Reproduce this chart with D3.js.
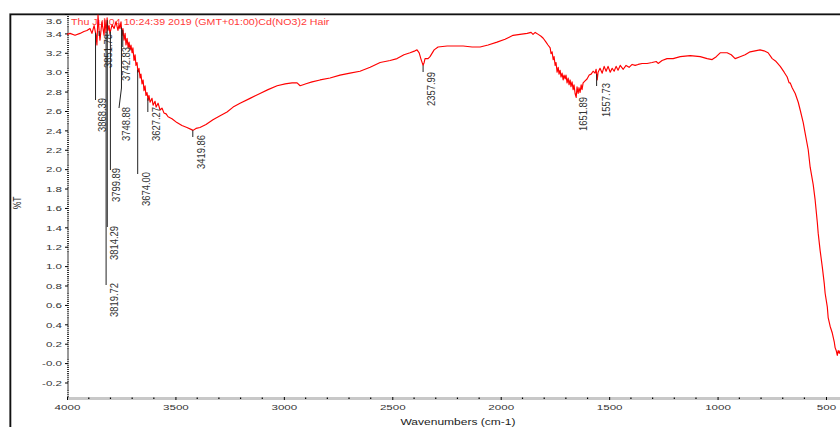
<!DOCTYPE html>
<html>
<head>
<meta charset="utf-8">
<script src="https://cdn.jsdelivr.net/npm/d3@7"></script>
<style>
  body { margin: 0; background: #fff; }
  svg { display: block; font-family: "Liberation Sans", Arial, sans-serif; }
</style>
</head>
<body>
<svg id="chart" width="840" height="427"></svg>
<script>
// FTIR spectrum of Cd(NO3)2-treated hair: wavenumber (cm-1) vs transmittance (%T)
const wavenumbers = [
  4000, 3986, 3963, 3940, 3922, 3908, 3894, 3885, 3875, 3866, 3862, 3857, 3852, 3848, 3839, 3829,
  3825, 3820, 3815, 3811, 3806, 3802, 3792, 3783, 3774, 3765, 3760, 3756, 3751, 3746, 3742, 3737,
  3732, 3728, 3723, 3718, 3714, 3709, 3705, 3700, 3696, 3691, 3686, 3682, 3677, 3673, 3668, 3663,
  3659, 3654, 3649, 3645, 3640, 3636, 3631, 3626, 3622, 3617, 3608, 3603, 3594, 3589, 3580, 3571,
  3562, 3553, 3543, 3534, 3516, 3493, 3470, 3447, 3428, 3419, 3405, 3387, 3359, 3327, 3294, 3262,
  3234, 3202, 3156, 3110, 3073, 3031, 2994, 2962, 2939, 2925, 2911, 2898, 2870, 2833, 2787, 2741,
  2695, 2649, 2602, 2556, 2510, 2478, 2446, 2418, 2395, 2386, 2376, 2367, 2358, 2353, 2349, 2335,
  2326, 2307, 2289, 2247, 2210, 2173, 2132, 2095, 2058, 2017, 1980, 1943, 1911, 1878, 1860, 1851,
  1841, 1827, 1814, 1804, 1791, 1782, 1772, 1768, 1763, 1758, 1754, 1749, 1745, 1740, 1735, 1731,
  1726, 1722, 1717, 1712, 1708, 1703, 1699, 1694, 1689, 1685, 1680, 1676, 1671, 1666, 1662, 1657,
  1652, 1648, 1643, 1639, 1634, 1629, 1625, 1620, 1611, 1602, 1592, 1583, 1574, 1565, 1560, 1555,
  1551, 1542, 1532, 1523, 1514, 1505, 1495, 1486, 1477, 1468, 1459, 1449, 1435, 1422, 1408, 1394,
  1380, 1366, 1348, 1325, 1302, 1283, 1274, 1256, 1233, 1205, 1172, 1126, 1080, 1048, 1025, 1006,
  988, 956, 937, 919, 896, 873, 850, 827, 804, 786, 767, 748, 730, 711, 693, 679,
  670, 665, 656, 642, 628, 619, 605, 596, 582, 573, 559, 550, 540, 536, 527, 517,
  508, 504, 494, 490, 481, 471, 462, 458, 453, 448, 444, 439, 435
];
const transmittance = [
  3.39, 3.40, 3.38, 3.40, 3.42, 3.43, 3.45, 3.40, 3.48, 3.38, 3.28, 3.59, 3.43, 3.33, 3.52, 3.38,
  3.54, 3.41, 3.56, 3.43, 3.48, 3.40, 3.49, 3.45, 3.52, 3.43, 3.49, 3.45, 3.52, 3.38, 3.45, 3.33,
  3.40, 3.28, 3.35, 3.25, 3.31, 3.23, 3.28, 3.20, 3.25, 3.12, 3.18, 3.07, 3.10, 3.00, 3.04, 2.94,
  2.98, 2.88, 2.92, 2.81, 2.86, 2.76, 2.79, 2.71, 2.76, 2.69, 2.73, 2.66, 2.70, 2.64, 2.68, 2.61,
  2.63, 2.58, 2.57, 2.54, 2.52, 2.48, 2.45, 2.43, 2.41, 2.40, 2.42, 2.43, 2.46, 2.51, 2.55, 2.59,
  2.64, 2.68, 2.73, 2.78, 2.82, 2.86, 2.88, 2.89, 2.89, 2.86, 2.87, 2.88, 2.90, 2.92, 2.94, 2.97,
  2.99, 3.01, 3.05, 3.10, 3.12, 3.14, 3.18, 3.20, 3.22, 3.23, 3.20, 3.13, 3.07, 3.10, 3.14, 3.14,
  3.16, 3.23, 3.26, 3.27, 3.27, 3.27, 3.26, 3.26, 3.28, 3.31, 3.34, 3.38, 3.39, 3.40, 3.41, 3.39,
  3.41, 3.39, 3.37, 3.35, 3.31, 3.28, 3.25, 3.19, 3.21, 3.13, 3.16, 3.07, 3.10, 3.00, 3.05, 2.98,
  3.02, 2.95, 2.99, 2.92, 2.97, 2.93, 2.97, 2.89, 2.94, 2.87, 2.92, 2.85, 2.90, 2.82, 2.87, 2.78,
  2.74, 2.85, 2.78, 2.84, 2.79, 2.87, 2.82, 2.89, 2.91, 2.93, 2.97, 2.98, 3.01, 2.99, 3.03, 2.92,
  3.00, 3.04, 2.99, 3.06, 3.01, 3.06, 3.00, 3.04, 3.01, 3.06, 3.02, 3.07, 3.03, 3.07, 3.05, 3.08,
  3.07, 3.08, 3.09, 3.09, 3.10, 3.11, 3.09, 3.12, 3.14, 3.14, 3.16, 3.17, 3.16, 3.14, 3.13, 3.16,
  3.20, 3.20, 3.18, 3.14, 3.16, 3.18, 3.21, 3.22, 3.23, 3.22, 3.20, 3.14, 3.11, 3.06, 3.00, 2.95,
  2.89, 2.89, 2.84, 2.78, 2.69, 2.61, 2.48, 2.37, 2.20, 2.02, 1.84, 1.68, 1.45, 1.34, 1.16, 0.99,
  0.82, 0.72, 0.58, 0.47, 0.38, 0.31, 0.22, 0.16, 0.13, 0.08, 0.13, 0.10, 0.13
];

// Picked peaks (cm-1) and their printed labels
const peakWavenumbers = [3868.39, 3851.78, 3819.72, 3814.29, 3799.89, 3748.88, 3742.83,
                         3674.00, 3627.27, 3419.86, 2357.99, 1651.89, 1557.73];
const peakLabels = ["3868.39", "3851.78", "3819.72", "3814.29", "3799.89", "3748.88", "3742.83",
                    "3674.00", "3627.27", "3419.86", "2357.99", "1651.89", "1557.73"];

const yTicks = [3.6, 3.4, 3.2, 3.0, 2.8, 2.6, 2.4, 2.2, 2.0, 1.8, 1.6, 1.4, 1.2, 1.0,
                0.8, 0.6, 0.4, 0.2, 0.0, -0.2];
const yTickLabels = ["3.6", "3.4", "3.2", "3.0", "2.8", "2.6", "2.4", "2.2", "2.0", "1.8", "1.6",
                     "1.4", "1.2", "1.0", "0.8", "0.6", "0.4", "0.2", "-0.0", "-0.2"];
const xTicks = [4000, 3500, 3000, 2500, 2000, 1500, 1000, 500];
const xTickLabels = ["4000", "3500", "3000", "2500", "2000", "1500", "1000", "500"];

const headerText = "Thu Jul 04 10:24:39 2019 (GMT+01:00)Cd(NO3)2 Hair";
const xTitle = "Wavenumbers (cm-1)";
const yTitle = "%T";

// ---- layout ----
const svg = d3.select("#chart");
const plot = { left: 67, right: 840, top: 14, bottom: 398 };
const x = d3.scaleLinear().domain([4000, 500]).range([67, 826]);
const y = d3.scaleLinear().domain([-0.36, 3.6]).range([398, 14]);
const STRETCH = 1.45;   // horizontal text stretch of the instrument printout

// leader line ends and label anchors for the peak annotations (pixels)
const peakLayout = [
  { drop: 100, lx: 102, top: 98 },
  { drop: 36,  lx: 108, top: 34 },
  { drop: 285, lx: 114, top: 283 },
  { drop: 227, lx: 114, top: 226 },
  { drop: 170, lx: 116, top: 168 },
  { drop: 88,  bend: [119, 108], lx: 126, top: 107 },
  { drop: 47,  lx: 126, top: 47 },
  { drop: 174, lx: 146, top: 172 },
  { drop: 112, lx: 156, top: 107 },
  { drop: 137, lx: 201, top: 135 },
  { drop: 72,  lx: 431, top: 72 },
  { drop: 97,  lx: 583, top: 97 },
  { drop: 86,  lx: 606, top: 83 }
];

// outer frame (top and left edges)
svg.append("path").attr("d", "M9.5,427V13.5H840")
  .attr("fill", "none").attr("stroke", "#999").attr("stroke-width", 1);
svg.append("path").attr("d", "M10.5,427V14.5H840")
  .attr("fill", "none").attr("stroke", "#111").attr("stroke-width", 1.6);

// bottom axis: grey bar with dotted minor ticks
svg.append("line").attr("x1", 67).attr("x2", 840).attr("y1", 398.5).attr("y2", 398.5)
  .attr("stroke", "#c8c8c8").attr("stroke-width", 3);
const xMinor = d3.range(500, 4001, 100).filter(v => v % 500 !== 0);
svg.append("g").selectAll("rect").data(xMinor).join("rect")
  .attr("x", d => x(d) - 0.5).attr("y", 397.5).attr("width", 1.2).attr("height", 1.5)
  .attr("fill", "#000");
const xAxis = svg.append("g").attr("transform", "translate(0,397)")
  .call(d3.axisBottom(x).tickValues(xTicks).tickFormat((d, i) => xTickLabels[i])
        .tickSize(3).tickPadding(4));
xAxis.select(".domain").remove();
xAxis.selectAll(".tick line").attr("stroke", "#000");
xAxis.selectAll(".tick text")
  .attr("y", null).attr("dy", null)
  .attr("transform", `translate(0,12.5) scale(${STRETCH},1)`)
  .attr("font-size", 8).attr("fill", "#333").attr("font-family", "Liberation Sans, Arial, sans-serif");

// left axis: dotted spine with major ticks
svg.append("line").attr("x1", 68).attr("x2", 68).attr("y1", 14).attr("y2", 398)
  .attr("stroke", "#000").attr("stroke-width", 1.6).attr("stroke-dasharray", "1,0.94");
const yAxis = svg.append("g").attr("transform", "translate(68,0)")
  .call(d3.axisLeft(y).tickValues(yTicks).tickFormat((d, i) => yTickLabels[i])
        .tickSize(3).tickPadding(3));
yAxis.select(".domain").remove();
yAxis.selectAll(".tick line").attr("stroke", "#000");
yAxis.selectAll(".tick text")
  .attr("x", null).attr("dy", "0.34em")
  .attr("transform", (d, i) => `translate(-6,${i === 0 ? 7 : 0}) scale(${STRETCH},1)`)
  .attr("font-size", 8).attr("fill", "#333").attr("font-family", "Liberation Sans, Arial, sans-serif");

// axis titles
svg.append("text").attr("transform", `translate(458,425) scale(${STRETCH},1)`)
  .attr("text-anchor", "middle").attr("font-size", 8.3).attr("fill", "#222").text(xTitle);
svg.append("text").attr("transform", `translate(21,203) scale(1.3,1) rotate(-90)`)
  .attr("text-anchor", "middle").attr("font-size", 8.5).attr("fill", "#222").text(yTitle);

// header line
svg.append("text").attr("transform", `translate(71,25) scale(1.24,1)`)
  .attr("font-size", 8.6).attr("fill", "#ff3a3a").text(headerText);

// spectrum
svg.append("defs").append("clipPath").attr("id", "plot-clip")
  .append("rect").attr("x", plot.left).attr("y", plot.top)
  .attr("width", plot.right - plot.left).attr("height", plot.bottom - plot.top);
const spectrum = wavenumbers.map((w, i) => [w, transmittance[i]]);
svg.append("path").datum(spectrum)
  .attr("clip-path", "url(#plot-clip)")
  .attr("fill", "none").attr("stroke", "#ff0000").attr("stroke-width", 1.15)
  .attr("stroke-linejoin", "round")
  .attr("d", d3.line().x(d => x(d[0])).y(d => y(d[1])));

// value of the trace at a given wavenumber (for leader start points)
const asc = spectrum.slice().reverse();
const bis = d3.bisector(d => d[0]).left;
function traceAt(w) {
  const i = Math.max(1, Math.min(asc.length - 1, bis(asc, w)));
  const a = asc[i - 1], b = asc[i];
  const t = (w - a[0]) / (b[0] - a[0]);
  return a[1] + t * (b[1] - a[1]);
}

// peak annotations
const peaks = svg.append("g");
peakWavenumbers.forEach((w, i) => {
  const L = peakLayout[i];
  const px = x(w), py = y(traceAt(w));
  let d = `M${px},${py}V${L.drop}`;
  if (L.bend) d += `L${L.bend[0]},${L.bend[1]}`;
  peaks.append("path").attr("d", d).attr("fill", "none")
    .attr("stroke", "#222").attr("stroke-width", 1);
  peaks.append("text")
    .attr("transform", `translate(${L.lx},${L.top}) scale(1.25,1) rotate(-90)`)
    .attr("text-anchor", "end").attr("dy", "0.35em")
    .attr("font-size", 9.4).attr("fill", "#333").text(peakLabels[i]);
});
</script>
</body>
</html>
